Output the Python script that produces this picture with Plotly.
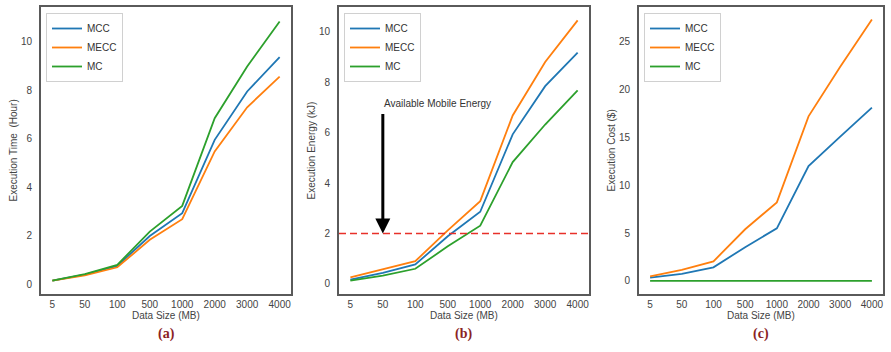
import plotly.graph_objects as go

sizes = ["5", "50", "100", "500", "1000", "2000", "3000", "4000"]
series_names = ["MCC", "MECC", "MC"]
colors = ["#1f77b4", "#ff7f0e", "#2ca02c"]

time_mcc = [0.15, 0.40, 0.76, 1.99, 2.93, 5.95, 7.94, 9.36]
time_mecc = [0.15, 0.37, 0.70, 1.83, 2.68, 5.47, 7.29, 8.55]
time_mc = [0.15, 0.42, 0.80, 2.17, 3.23, 6.84, 8.97, 10.82]

energy_mcc = [0.17, 0.44, 0.77, 1.89, 2.86, 5.93, 7.84, 9.17]
energy_mecc = [0.26, 0.57, 0.90, 2.12, 3.28, 6.68, 8.80, 10.45]
energy_mc = [0.13, 0.33, 0.60, 1.49, 2.31, 4.83, 6.32, 7.67]

cost_mcc = [0.35, 0.74, 1.41, 3.52, 5.49, 12.0, 15.07, 18.1]
cost_mecc = [0.46, 1.16, 2.04, 5.39, 8.2, 17.18, 22.36, 27.3]
cost_mc = [0.0, 0.0, 0.0, 0.0, 0.0, 0.0, 0.0, 0.0]

energy_limit = 2.0
arrow_top = 6.8
arrow_label = "Available Mobile Energy"
arrow_label_y = 7.15
arrow_cat = "50"
y_titles = ["Execution Time  (Hour)", "Execution Energy (kJ)", "Execution Cost ($)"]
panel_labels = ["(a)", "(b)", "(c)"]

W, H = 891, 352
def px(x): return x / W
def py(y): return 1 - y / H

boxes = [(41, 291), (339, 589), (639, 883)]
ytop, ybot = 7, 294
yranges = [[-0.4, 11.42], [-0.4, 10.98], [-1.37, 28.6]]
ytickvals = [[0, 2, 4, 6, 8, 10], [0, 2, 4, 6, 8, 10], [0, 5, 10, 15, 20, 25]]
ytitle_x = [13, 311, 611]

data_sets = [
    [time_mcc, time_mecc, time_mc],
    [energy_mcc, energy_mecc, energy_mc],
    [cost_mcc, cost_mecc, cost_mc],
]

fig = go.Figure()
font_family = "Liberation Sans, Arial, sans-serif"
tick_color = "#444444"
frame_color = "#5a5a5a"

annotations = []
layout = dict(
    width=W, height=H,
    margin=dict(l=0, r=0, t=0, b=0),
    paper_bgcolor="white", plot_bgcolor="white",
    font=dict(family=font_family, size=10, color=tick_color),
    showlegend=True,
)

for i in range(3):
    xa = "x" if i == 0 else f"x{i+1}"
    ya = "y" if i == 0 else f"y{i+1}"
    lg = "legend" if i == 0 else f"legend{i+1}"
    for j in range(3):
        fig.add_trace(go.Scatter(
            x=sizes, y=data_sets[i][j], mode="lines", name=series_names[j],
            line=dict(color=colors[j], width=1.8),
            xaxis=xa, yaxis=ya, legend=lg,
        ))
    x0, x1 = boxes[i]
    axkey = "xaxis" if i == 0 else f"xaxis{i+1}"
    aykey = "yaxis" if i == 0 else f"yaxis{i+1}"
    layout[axkey] = dict(
        domain=[px(x0), px(x1)], anchor=ya, type="category",
        range=[-0.35, 7.35], showgrid=False, zeroline=False,
        showline=True, mirror=True, linecolor=frame_color, linewidth=1.8,
        ticks="", tickfont=dict(size=10, color=tick_color),
    )
    layout[aykey] = dict(
        domain=[py(ybot), py(ytop)], anchor=xa, range=yranges[i],
        tickvals=ytickvals[i], showgrid=False, zeroline=False,
        showline=True, mirror=True, linecolor=frame_color, linewidth=1.8,
        ticks="", tickfont=dict(size=10, color=tick_color),
        ticklabelstandoff=5,
    )
    layout[lg] = dict(
        x=px(x0 + 5), y=py(ytop + 6), xanchor="left", yanchor="top",
        bgcolor="white", bordercolor="#d0d0d0", borderwidth=1,
        font=dict(size=10, color="#333333"), itemwidth=30,
        tracegroupgap=0,
    )
    cx = (x0 + x1) / 2
    annotations.append(dict(
        text="Data Size (MB)", x=px(cx), y=py(315.5), xref="paper", yref="paper",
        showarrow=False, font=dict(size=10, color=tick_color),
        xanchor="center", yanchor="middle",
    ))
    annotations.append(dict(
        text=y_titles[i], x=px(ytitle_x[i]), y=py((ytop + ybot) / 2),
        xref="paper", yref="paper", textangle=-90, showarrow=False,
        font=dict(size=10, color=tick_color), xanchor="center", yanchor="middle",
    ))
    annotations.append(dict(
        text="<b>" + panel_labels[i] + "</b>", x=px(cx), y=py(334),
        xref="paper", yref="paper", showarrow=False,
        font=dict(size=14, color="#8b2323", family="Liberation Serif, Times New Roman, serif"),
        xanchor="center", yanchor="middle",
    ))

# Panel (b) extras
cat_idx = sizes.index(arrow_cat)
annotations.append(dict(
    x=cat_idx, y=energy_limit, xref="x2", yref="y2",
    ax=cat_idx, ay=arrow_top, axref="x2", ayref="y2",
    showarrow=True, arrowhead=2, arrowsize=1, arrowwidth=3, arrowcolor="black",
    text="",
))
annotations.append(dict(
    x=cat_idx, y=arrow_label_y, xref="x2", yref="y2", text=arrow_label,
    showarrow=False, xanchor="left", yanchor="middle", xshift=-1,
    font=dict(size=10, color="#333333"),
))
layout["annotations"] = annotations
layout["shapes"] = [dict(
    type="line", xref="x2 domain", yref="y2", x0=0, x1=1,
    y0=energy_limit, y1=energy_limit,
    line=dict(color="#e8302a", width=1.6, dash="7px,4px"),
)]

fig.update_layout(**layout)
fig.write_html("out.html")
